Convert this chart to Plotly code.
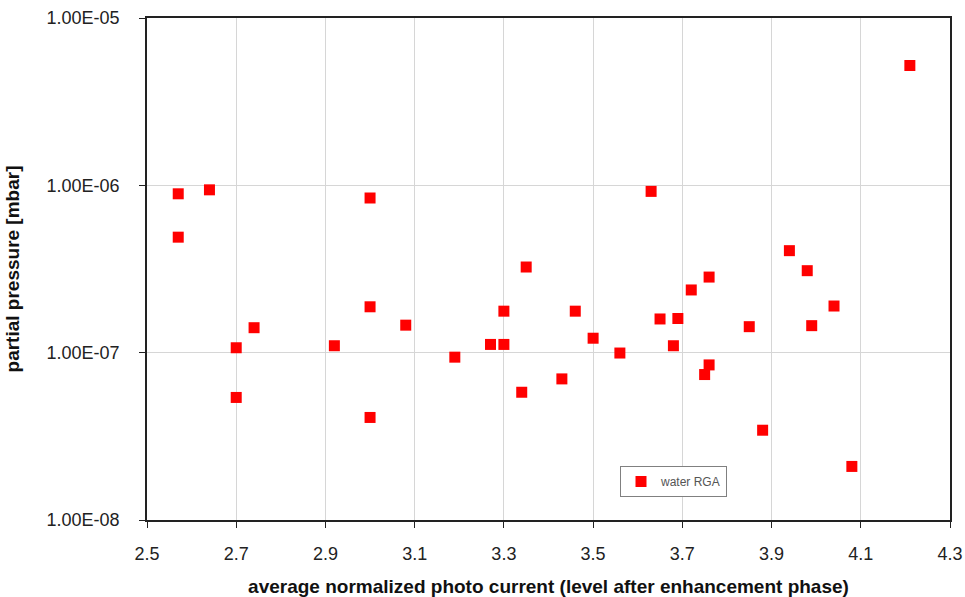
import plotly.graph_objects as go

x_vals = [2.57, 2.57, 2.64, 2.70, 2.70, 2.74, 2.92, 3.00, 3.00, 3.00, 3.08, 3.19,
          3.27, 3.30, 3.30, 3.34, 3.35, 3.43, 3.46, 3.50, 3.56, 3.63, 3.65, 3.68,
          3.69, 3.72, 3.75, 3.76, 3.76, 3.85, 3.88, 3.94, 3.98, 3.99, 4.04, 4.08, 4.21]
y_vals = [8.9e-7, 4.9e-7, 9.4e-7, 1.07e-7, 5.4e-8, 1.41e-7, 1.10e-7, 8.4e-7, 1.88e-7, 4.1e-8,
          1.46e-7, 9.4e-8, 1.12e-7, 1.12e-7, 1.77e-7, 5.8e-8, 3.25e-7, 6.97e-8, 1.77e-7, 1.22e-7,
          9.95e-8, 9.2e-7, 1.59e-7, 1.10e-7, 1.60e-7, 2.37e-7, 7.4e-8, 8.45e-8, 2.83e-7, 1.43e-7,
          3.44e-8, 4.07e-7, 3.09e-7, 1.45e-7, 1.90e-7, 2.09e-8, 5.2e-6]

x_ticks = [2.5, 2.7, 2.9, 3.1, 3.3, 3.5, 3.7, 3.9, 4.1, 4.3]
y_ticks = [1e-8, 1e-7, 1e-6, 1e-5]
y_ticktext = ["1.00E-08", "1.00E-07", "1.00E-06", "1.00E-05"]

fig = go.Figure()
fig.add_trace(go.Scatter(
    x=x_vals, y=y_vals, mode="markers", name="water RGA",
    marker=dict(symbol="square", size=11, color="#ff0000", line=dict(width=0)),
))

font = "Liberation Sans, Arial, sans-serif"
fig.update_layout(
    width=965, height=597,
    margin=dict(l=147, r=15, t=18, b=77, autoexpand=False),
    paper_bgcolor="white", plot_bgcolor="white",
    font=dict(family=font, size=18, color="#222222"),
    showlegend=True,
    legend=dict(
        x=(620 - 147) / (950 - 147), y=(520 - 466) / (520 - 18),
        xanchor="left", yanchor="top",
        bgcolor="white", bordercolor="#808080", borderwidth=1,
        font=dict(size=12, color="#555555"),
        itemwidth=30, tracegroupgap=0,
    ),
    xaxis=dict(
        range=[2.5, 4.3], tickvals=x_ticks, ticktext=[f"{v:.1f}" for v in x_ticks],
        automargin=False,
        showgrid=True, gridcolor="#d6d6d6", gridwidth=1,
        showline=True, linecolor="#222222", linewidth=1.5, mirror=True,
        ticks="outside", ticklen=6, tickcolor="#222222", ticklabelstandoff=11,
        tickfont=dict(size=18),
        zeroline=False,
        title=dict(text="<b>average normalized photo current (level after enhancement phase)</b>",
                   font=dict(size=19, color="#111111"), standoff=18),
    ),
    yaxis=dict(
        type="log", range=[-8, -5], tickvals=y_ticks, ticktext=y_ticktext,
        automargin=False,
        showgrid=True, gridcolor="#d6d6d6", gridwidth=1,
        showline=True, linecolor="#222222", linewidth=1.5, mirror=True,
        ticks="outside", ticklen=6, tickcolor="#222222", ticklabelstandoff=16,
        tickfont=dict(size=18),
        zeroline=False,
        title=dict(text="<b>partial pressure [mbar]</b>",
                   font=dict(size=19, color="#111111"), standoff=22),
    ),
)

fig.write_html("out.html")
